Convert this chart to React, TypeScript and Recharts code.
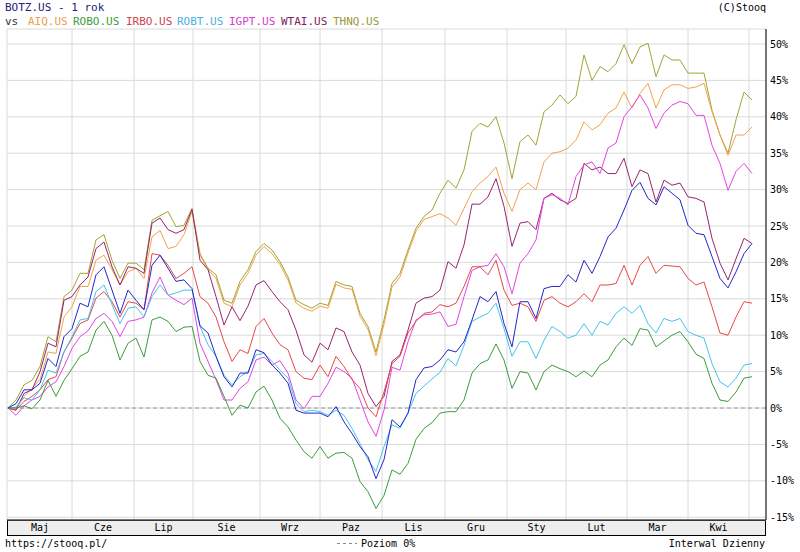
import React from 'react';
import { LineChart, Line, XAxis, YAxis, CartesianGrid, ReferenceLine } from 'recharts';

// ---- data (percent change vs. start, sampled sessions) ----
const sessions: number[] = Array.from({ length: 94 }, (_, i) => i);

const monthLabels = ['Maj', 'Cze', 'Lip', 'Sie', 'Wrz', 'Paz', 'Lis', 'Gru', 'Sty', 'Lut', 'Mar', 'Kwi'];
const monthBoundaries = [8, 15.75, 23.125, 31.5, 39, 46.75, 54.625, 62.375, 69.75, 77.375, 85, 92.625];
const percentTicks = [-15, -10, -5, 0, 5, 10, 15, 20, 25, 30, 35, 40, 45, 50];

const THNQ = [0, 1.1, 3.2, 3.8, 5.7, 9.8, 9.1, 15.3, 16.2, 18.5, 18.5, 23.1, 23.8, 20.3, 17.8, 19.9, 19.9, 19.0, 25.8,
  26.4, 27.0, 24.9, 25.1, 27.4, 21.2, 19.2, 18.3, 14.8, 14.4, 17.4, 19.0, 21.5, 22.6, 21.7, 20.1, 18.0, 14.8, 14.2,
  13.7, 14.4, 14.1, 17.4, 16.9, 16.7, 13.0, 11.2, 7.7, 12.1, 17.1, 18.5, 21.7, 24.7, 26.3, 27.2, 29.5, 31.3, 30.2,
  32.7, 38.0, 39.1, 38.6, 40.0, 36.4, 31.5, 36.6, 37.5, 36.1, 40.7, 41.6, 43.0, 41.8, 42.8, 48.5, 45.0, 46.9,
  46.2, 47.3, 49.9, 47.3, 49.6, 50.1, 45.5, 48.5, 47.8, 47.8, 46.0, 46.0, 46.0, 40.9, 37.5, 35.0, 39.6, 43.4, 42.3];

const AIQ = [0, 0.1, 1.6, 2.7, 3.9, 7.7, 7.5, 12.5, 13.9, 16.7, 16.7, 20.3, 21.0, 19.0, 16.9, 18.7, 19.2, 17.8, 23.5,
  24.4, 21.9, 22.2, 23.8, 27.0, 21.0, 19.0, 17.8, 14.4, 13.9, 16.9, 18.5, 21.0, 22.2, 21.2, 19.7, 17.6, 14.4, 13.7,
  13.3, 14.0, 13.7, 17.0, 16.5, 16.3, 12.6, 10.8, 7.2, 11.5, 16.6, 18.0, 21.3, 24.3, 25.9, 26.3, 26.7, 26.1, 25.1,
  27.4, 29.7, 30.9, 31.8, 33.1, 29.5, 27.0, 30.0, 30.9, 30.0, 33.8, 35.0, 35.2, 35.7, 36.8, 39.3, 38.2, 38.9,
  40.5, 41.2, 43.4, 41.2, 43.2, 44.6, 41.2, 43.7, 44.4, 44.4, 43.9, 44.1, 44.6, 40.7, 37.5, 34.7, 37.5, 37.5, 38.6];

const WTAI = [0, -0.3, 2.0, 2.5, 5.0, 8.9, 8.4, 14.8, 15.3, 16.9, 18.0, 21.9, 22.8, 19.4, 16.9, 19.4, 19.2, 18.5, 25.4,
  26.1, 24.5, 24.0, 24.5, 27.3, 20.3, 19.0, 15.3, 11.4, 13.9, 12.0, 14.0, 16.9, 17.5, 16.0, 14.6, 13.5, 10.7, 7.3,
  6.3, 8.9, 8.0, 11.0, 10.5, 7.7, 5.9, 2.0, 0.2, 1.6, 6.4, 7.3, 10.7, 14.4, 15.1, 15.3, 16.2, 20.1, 19.2,
  22.4, 28.0, 28.0, 29.0, 31.5, 27.7, 22.2, 25.4, 25.6, 24.5, 28.8, 29.5, 28.6, 28.1, 28.8, 33.6, 32.7, 33.1,
  32.2, 32.2, 34.3, 30.4, 32.7, 32.2, 28.3, 31.3, 30.6, 30.9, 29.0, 28.8, 28.3, 23.3, 19.9, 17.6, 20.5, 23.3, 22.6];

const IRBO = [0, -0.3, 0.9, 1.6, 2.5, 3.9, 4.3, 7.7, 9.6, 11.6, 12.1, 15.1, 16.0, 14.6, 12.5, 14.6, 14.4, 13.5, 21.2,
  21.0, 19.6, 17.8, 18.5, 19.4, 15.3, 14.4, 12.5, 9.1, 6.4, 8.0, 7.5, 11.2, 12.3, 10.3, 8.7, 8.0, 5.0, 4.1,
  3.9, 5.9, 4.3, 7.1, 5.7, 3.9, 2.7, 0.0, -1.2, 2.2, 6.1, 7.1, 10.3, 11.9, 13.0, 13.2, 14.2, 13.9, 14.4,
  16.7, 19.4, 19.4, 18.3, 20.3, 16.2, 14.1, 14.4, 13.9, 11.9, 14.8, 15.3, 14.4, 13.9, 14.6, 15.7, 14.6, 16.9,
  16.9, 17.1, 19.6, 16.9, 19.6, 20.8, 18.5, 19.6, 19.5, 19.4, 17.8, 16.9, 17.3, 13.9, 10.3, 10.0, 12.5, 14.6, 14.4];

const BOTZ = [0, 0.6, 2.5, 2.5, 3.4, 6.8, 5.7, 9.8, 10.9, 14.4, 13.9, 18.3, 19.4, 16.2, 13.0, 16.2, 14.8, 13.5, 19.6,
  21.0, 19.2, 17.4, 17.6, 16.4, 11.3, 10.3, 7.1, 4.3, 2.9, 4.8, 4.8, 8.0, 7.6, 5.9, 4.8, 3.4, -0.3, -0.7,
  -0.7, -0.7, -1.2, 0.2, -1.9, -3.5, -5.3, -6.7, -9.7, -7.1, -1.6, -2.6, -0.7, 3.9, 5.5, 5.7, 6.6, 8.0, 7.7,
  9.1, 12.1, 15.3, 14.6, 16.0, 11.6, 8.4, 14.6, 14.6, 12.3, 16.4, 16.7, 16.7, 18.3, 17.3, 20.3, 18.5, 20.8,
  23.5, 24.7, 27.2, 29.9, 31.0, 28.8, 27.9, 30.4, 29.5, 28.6, 25.1, 24.0, 23.8, 20.8, 17.8, 16.5, 18.7, 21.2, 22.6];

const ROBT = [0, 0.1, 1.4, 1.1, 2.5, 5.2, 4.8, 7.7, 9.8, 12.1, 12.3, 16.0, 16.9, 14.2, 11.6, 13.7, 13.9, 12.5, 15.3,
  16.9, 15.5, 15.8, 16.2, 16.2, 11.2, 8.7, 7.1, 4.5, 3.2, 4.3, 5.0, 7.3, 7.5, 6.4, 5.2, 4.1, 0.6, -0.5,
  -0.3, -0.5, -1.0, -0.3, -1.0, -2.8, -4.9, -7.1, -8.7, -5.3, -2.3, -2.8, -0.7, 2.0, 3.0, 4.0, 4.9, 6.8, 5.8,
  8.6, 11.9, 12.5, 13.0, 14.4, 10.9, 7.1, 9.1, 9.1, 6.8, 9.3, 11.2, 10.5, 9.6, 10.0, 11.6, 10.0, 11.9,
  11.4, 13.0, 13.9, 13.0, 14.1, 11.6, 10.3, 12.3, 11.9, 12.3, 10.5, 10.0, 9.6, 6.1, 3.6, 2.9, 4.1, 5.9, 6.1];

const IGPT = [0, -1.0, 0.3, 1.1, 1.6, 2.9, 3.6, 5.7, 8.2, 9.8, 10.6, 12.3, 13.0, 11.9, 9.8, 11.9, 12.1, 12.5, 15.8,
  18.0, 15.5, 14.8, 14.2, 15.1, 8.9, 6.4, 3.9, 1.1, 1.1, 2.7, 3.6, 6.6, 7.0, 5.9, 6.5, 4.8, 1.1, -0.1,
  1.6, 1.6, 3.4, 5.6, 5.0, 4.1, 1.1, -1.9, -3.9, -0.3, 5.6, 5.2, 9.1, 12.1, 12.8, 12.9, 13.2, 11.2, 11.5,
  15.3, 18.9, 19.4, 19.6, 21.2, 19.4, 15.7, 19.9, 21.2, 23.1, 28.8, 29.3, 28.8, 27.9, 31.8, 33.4, 33.8, 32.2,
  35.7, 36.4, 40.0, 41.4, 43.0, 41.2, 38.4, 40.5, 41.6, 42.1, 41.8, 40.2, 40.2, 36.1, 33.6, 29.9, 32.5, 33.6, 32.2];

const ROBO = [0, 0.0, 0.3, -0.1, 1.1, 3.8, 1.6, 3.8, 5.4, 7.1, 7.7, 10.7, 11.9, 10.0, 6.6, 8.9, 9.6, 7.0, 12.1,
  12.5, 11.9, 10.5, 11.1, 11.2, 6.4, 4.5, 4.1, 1.6, -1.0, 0.4, 0.0, 2.2, 3.0, 1.1, -1.4, -2.6, -4.4, -6.0,
  -6.9, -5.3, -6.9, -6.2, -6.1, -6.9, -10.1, -11.5, -13.8, -12.0, -8.5, -9.1, -7.6, -4.3, -2.8, -2.0, -0.7, -0.5, -0.5,
  1.1, 4.8, 6.1, 6.6, 8.8, 6.6, 2.7, 5.0, 4.8, 2.5, 5.0, 5.9, 5.4, 5.0, 4.3, 5.1, 4.3, 5.9,
  6.6, 8.4, 9.6, 8.6, 10.9, 10.7, 8.4, 9.2, 10.0, 10.5, 9.1, 7.4, 6.8, 3.4, 1.1, 0.9, 2.2, 4.1, 4.3];

const seriesList = [
  { key: 'THNQ', label: 'THNQ.US', values: THNQ, color: '#a3a336', text: '#9a9a3a', lx: 333 },
  { key: 'AIQ', label: 'AIQ.US', values: AIQ, color: '#f0a448', text: '#e8a050', lx: 28 },
  { key: 'WTAI', label: 'WTAI.US', values: WTAI, color: '#96246e', text: '#802060', lx: 281 },
  { key: 'IGPT', label: 'IGPT.US', values: IGPT, color: '#e444e4', text: '#d040d0', lx: 229 },
  { key: 'IRBO', label: 'IRBO.US', values: IRBO, color: '#e84848', text: '#d04050', lx: 126 },
  { key: 'ROBT', label: 'ROBT.US', values: ROBT, color: '#44c4ec', text: '#48b0e0', lx: 177 },
  { key: 'ROBO', label: 'ROBO.US', values: ROBO, color: '#3c9c3c', text: '#3c9c3c', lx: 73 },
  { key: 'BOTZ', label: 'BOTZ.US', values: BOTZ, color: '#2626c8', text: '#202078', lx: 5 },
];

const rows = sessions.map((d, i) => {
  const r: Record<string, number> = { day: d };
  seriesList.forEach((s) => { r[s.key] = s.values[i]; });
  return r;
});

const monthCenters = monthLabels.map((_, i) => ((i === 0 ? 0 : monthBoundaries[i - 1]) + monthBoundaries[i]) / 2);

const FONT = "'DejaVu Sans Mono', monospace";
const X_DOMAIN: [number, number] = [-0.125, 94.75];
const Y_DOMAIN: [number, number] = [-15.38, 52.06];

export default function App() {
  const legend = seriesList.filter((s) => s.key !== 'BOTZ');
  return (
    <div style={{ position: 'absolute', left: 0, top: 0, width: 800, height: 552, background: '#fff' }}>
      <svg width={800} height={552} style={{ position: 'absolute', left: 0, top: 0, zIndex: 0 }}>
        <rect x={7.5} y={520.5} width={758} height={15} fill="#eeeeee" stroke="#000" strokeWidth={1} />
        <text x={5} y={11} fontFamily={FONT} fontSize={11} fill="#202078">BOTZ.US - 1 rok</text>
        <text x={5} y={25} fontFamily={FONT} fontSize={11} fill="#333">vs</text>
        {legend.map((s) => (
          <text key={s.key} x={s.lx} y={25} fontFamily={FONT} fontSize={11} fill={s.text}>{s.label}</text>
        ))}
        <text x={766} y={11} fontFamily={FONT} fontSize={10} fill="#000" textAnchor="end">(C)Stooq</text>
        <text x={5} y={547} fontFamily={FONT} fontSize={10} fill="#000">https://stooq.pl/</text>
        <line x1={337} y1={543.5} x2={357} y2={543.5} stroke="#888" strokeDasharray="3 3" />
        <text x={361} y={547} fontFamily={FONT} fontSize={10} fill="#000">Poziom 0%</text>
        <text x={765} y={547} fontFamily={FONT} fontSize={10} fill="#000" textAnchor="end">Interwal Dzienny</text>
      </svg>
      <div style={{ position: 'absolute', left: 0, top: 0, zIndex: 1 }}>
        <LineChart width={800} height={552} data={rows} margin={{ top: 29, right: 0, bottom: 0, left: 7 }}>
          <CartesianGrid xAxisId="top" yAxisId="right" stroke="#dadada" strokeWidth={1} />
          <XAxis
            xAxisId="top" orientation="top" type="number" dataKey="day" domain={X_DOMAIN} allowDataOverflow
            ticks={monthBoundaries} interval={0} mirror height={0} tickSize={4}
            tickFormatter={() => ''} axisLine={{ stroke: '#000' }} tickLine={{ stroke: '#000' }}
          />
          <XAxis
            xAxisId="bottom" orientation="bottom" type="number" dataKey="day" domain={X_DOMAIN} allowDataOverflow
            ticks={monthCenters} interval={0} height={32} tickLine={false} tickSize={0} tickMargin={4}
            tickFormatter={(_v: number, i: number) => monthLabels[i]}
            tick={{ fontSize: 10, fontFamily: FONT, fill: '#000' }} axisLine={{ stroke: '#000' }}
          />
          <YAxis
            yAxisId="right" orientation="right" type="number" domain={Y_DOMAIN} allowDataOverflow
            ticks={percentTicks} interval={0} width={34} tickLine={false} tickSize={0} tickMargin={4}
            tickFormatter={(v: number) => `${v}%`}
            tick={{ fontSize: 10, fontFamily: FONT, fill: '#000' }} axisLine={{ stroke: '#000' }}
          />
          <YAxis
            yAxisId="rightIn" orientation="right" type="number" domain={Y_DOMAIN} allowDataOverflow
            ticks={percentTicks} interval={0} mirror width={0} tickSize={4} tickFormatter={() => ''}
            axisLine={false} tickLine={{ stroke: '#000' }}
          />
          <YAxis
            yAxisId="left" orientation="left" type="number" domain={Y_DOMAIN} allowDataOverflow
            ticks={percentTicks} interval={0} mirror width={0} tickSize={4} tickFormatter={() => ''}
            axisLine={{ stroke: '#000' }} tickLine={{ stroke: '#000' }}
          />
          <ReferenceLine xAxisId="bottom" yAxisId="right" y={0} stroke="#999" strokeDasharray="4 3" />
          {seriesList.map((s) => (
            <Line
              key={s.key} xAxisId="bottom" yAxisId="right" type="linear" dataKey={s.key}
              stroke={s.color} strokeWidth={1} dot={false} activeDot={false} isAnimationActive={false}
            />
          ))}
        </LineChart>
      </div>
    </div>
  );
}
